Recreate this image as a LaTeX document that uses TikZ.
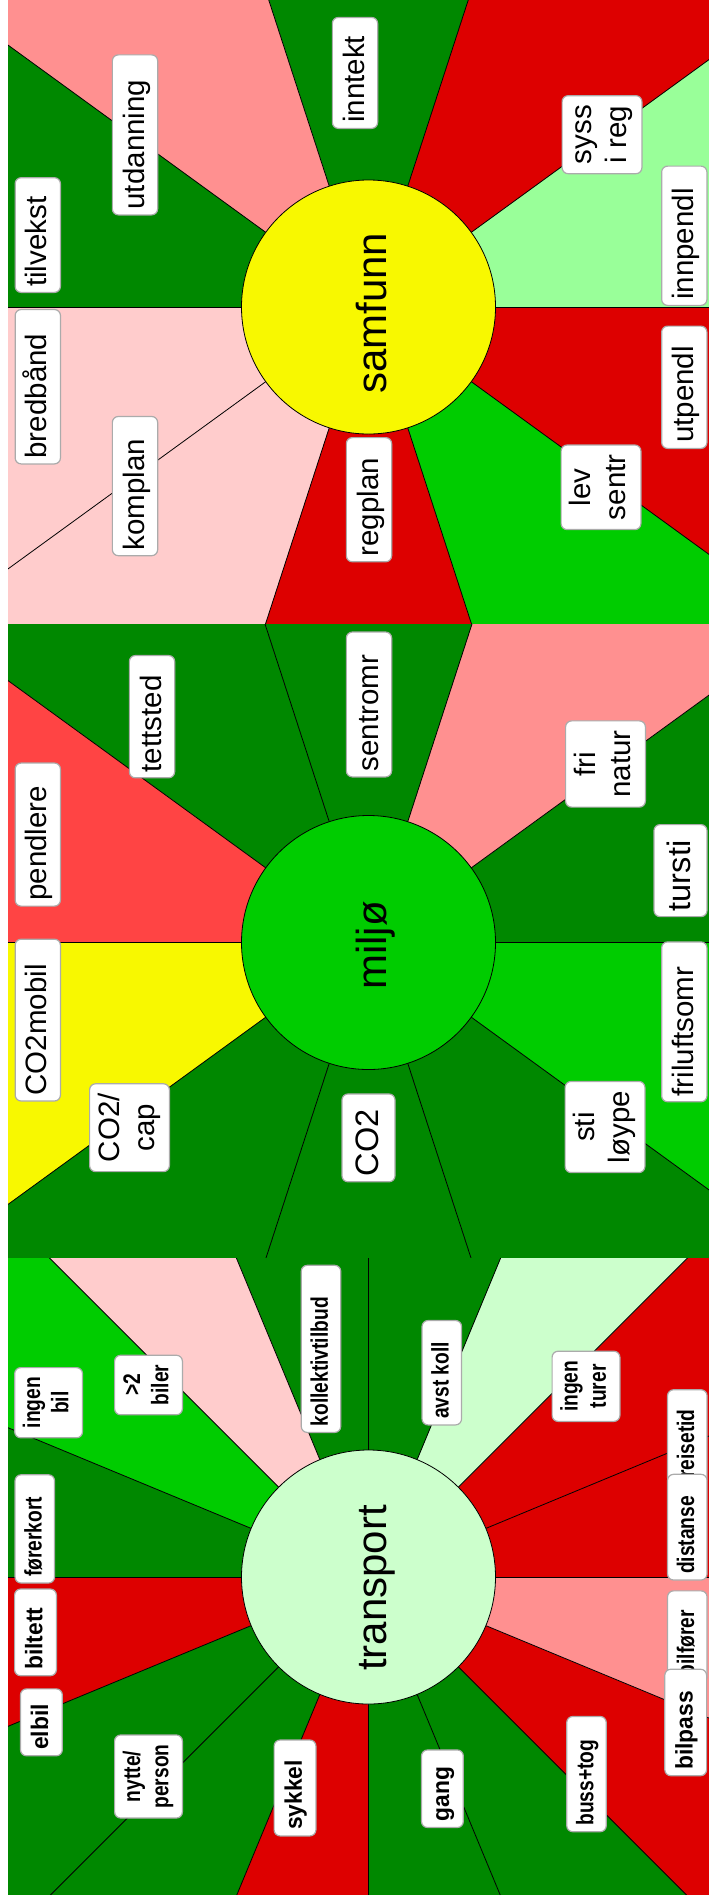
\documentclass[tikz,border=0pt]{standalone}
\usepackage{fontspec}
\setmainfont{Liberation Sans}
\newfontfamily\trfont[FakeStretch=0.8]{Liberation Sans}
\newfontfamily\trbigfont[FakeStretch=0.95]{Liberation Sans}

\definecolor{dgrn}{HTML}{008800}
\definecolor{bgrn}{HTML}{00CC00}
\definecolor{lgrn}{HTML}{99FF99}
\definecolor{vlgrn}{HTML}{CCFFCC}
\definecolor{rd}{HTML}{DD0000}
\definecolor{lrd}{HTML}{FF4444}
\definecolor{salm}{HTML}{FF9090}
\definecolor{pnk}{HTML}{FFCCCC}
\definecolor{yel}{HTML}{F8F800}

\tikzset{
  spoke/.style   = {line width=0.8pt},
  hub/.style     = {circle, draw, line width=0.8pt, minimum size=254pt, inner sep=0pt},
  hubtext/.style = {rotate=90, inner sep=0pt, font=\fontsize{42}{50}\selectfont,
                    text height=30.5pt, text depth=0pt},
  tag/.style     = {draw=black!33, line width=1.2pt, fill=white, rounded corners=6pt, rotate=90},
  % single line: text starts near the low end, box grows with the text
  padend/.style  = {execute at begin node={\setbox0=\hbox\bgroup},
                    execute at end node={\egroup\copy0\hspace*{#1\wd0}}},
  lbl/.style     = {tag, anchor=west, font=\fontsize{29.5}{35}\selectfont,
                    text height=22pt, text depth=4pt, inner xsep=5.5pt, inner ysep=9.65pt,
                    padend=0.15},
  lbltwo/.style  = {tag, align=center, font=\fontsize{29.5}{35}\selectfont,
                    inner xsep=9.5pt, inner ysep=4.9pt},
  tr/.style      = {tag, anchor=west, font=\trfont\bfseries\fontsize{24}{28.3}\selectfont,
                    text height=17.2pt, text depth=3.6pt, inner xsep=6.1pt, inner ysep=9.35pt,
                    padend=0.2},
  trbig/.style   = {tr, font=\trbigfont\bfseries\fontsize{24}{28.3}\selectfont, inner ysep=10.5pt},
  trtwo/.style   = {tag, align=center, font=\trfont\bfseries\fontsize{24}{28.3}\selectfont,
                    inner xsep=9.5pt, inner ysep=5.6pt},
}

\begin{document}
\begin{tikzpicture}[x=1pt,y=-1pt]
  \useasboundingbox (0,0) rectangle (709,1901);
  \clip (0,0) rectangle (709,1901);
  \fill[white] (0,0) rectangle (709,1901);

  % samfunn
  \coordinate (cs) at (368.5,307);
  \begin{scope}
    \clip (8,-11) rectangle (730,624.5);
    \foreach \c [count=\i from 0] in {lgrn,rd,dgrn,salm,dgrn,pnk,pnk,rd,bgrn,rd}
      \fill[\c] (cs) -- +({36*\i}:900pt) -- +({36*\i+36}:900pt) -- cycle;
    \foreach \a in {0,36,...,324}
      \draw[spoke] (cs) -- +(\a:900pt);
  \end{scope}
  \node[hub, fill=yel] (samfunn) at (cs) {};
  \node[hubtext] (samfunn-txt) at (371.2,313.3) {samfunn};

  \node[lbl] (inntekt) at (355,129) {inntekt};
  \node[lbl] (utdanning) at (135,215.5) {utdanning};
  \node[lbl] (tilvekst) at (37.8,293) {tilvekst};
  \node[lbl] (bredband) at (37.8,464.5) {bredbånd};
  \node[lbl] (komplan) at (135,556.3) {komplan};
  \node[lbl] (regplan) at (369,562.4) {regplan};
  \node[lbl] (innpendl) at (684.3,306) {innpendl};
  \node[lbl] (utpendl) at (684.3,449) {utpendl};
  \node[lbltwo] (syssireg) at (602,134.7) {\strut syss\\\strut i reg};
  \node[lbltwo] (levsentr) at (601,487.3) {\strut lev\\\strut sentr};

  % miljø
  \coordinate (cm) at (368.5,942.5);
  \begin{scope}
    \clip (8,624.5) rectangle (730,1258.5);
    \foreach \c [count=\i from 0] in {dgrn,salm,dgrn,dgrn,lrd,yel,dgrn,dgrn,dgrn,bgrn}
      \fill[\c] (cm) -- +({36*\i}:900pt) -- +({36*\i+36}:900pt) -- cycle;
    \foreach \a in {0,36,...,324}
      \draw[spoke] (cm) -- +(\a:900pt);
  \end{scope}
  \node[hub, fill=bgrn] (miljo) at (cm) {};
  \node[hubtext] (miljo-txt) at (371.2,945.6) {miljø};

  \node[lbl] (sentromr) at (369,777.5) {sentromr};
  \node[lbl] (tettsted) at (152,778.4) {tettsted};
  \node[lbl] (pendlere) at (37.8,906.7) {pendlere};
  \node[lbl] (co2mobil) at (37.8,1101.6) {CO2mobil};
  \node[lbl, font=\fontsize{32.5}{38}\selectfont, text height=24.2pt, text depth=4.4pt, inner ysep=12.2pt]
    (co2) at (368.5,1182.4) {CO2};
  \node[lbl, font=\fontsize{32.5}{38}\selectfont, text height=24.2pt, text depth=4.4pt, inner ysep=12.2pt]
    (tursti) at (680.5,917.2) {tursti};
  \node[lbl] (friluftsomr) at (684.3,1102.4) {friluftsomr};
  \node[lbltwo] (co2cap) at (129.5,1127.7) {\strut CO2/\\\strut cap};
  \node[lbltwo] (stiloype) at (605,1127) {\strut sti\\\strut løype};
  \node[lbltwo] (frinatur) at (605.5,764) {\strut fri\\\strut natur};

  % transport
  \coordinate (ct) at (368.5,1577);
  \begin{scope}
    \clip (8,1258.5) rectangle (730,1894);
    \foreach \c [count=\i from 0] in {rd,rd,vlgrn,dgrn,dgrn,pnk,bgrn,dgrn,rd,dgrn,dgrn,rd,dgrn,dgrn,rd,salm}
      \fill[\c] (ct) -- +({22.5*\i}:900pt) -- +({22.5*\i+22.5}:900pt) -- cycle;
    \foreach \a in {0,22.5,...,337.5}
      \draw[spoke] (ct) -- +(\a:900pt);
  \end{scope}
  \node[hub, fill=vlgrn] (transport) at (ct) {};
  \node[hubtext] (transport-txt) at (371.2,1588) {transport};

  \node[tr] (kollektiv) at (321,1433) {kollektivtilbud};
  \node[tr] (avstkoll) at (441.8,1425.5) {avst koll};
  \node[tr] (forerkort) at (34.8,1583.6) {førerkort};
  \node[trbig] (biltett) at (35.5,1676.3) {biltett};
  \node[trbig] (elbil) at (41.4,1756.4) {elbil};
  \node[tr] (reisetid) at (687.3,1484.5) {reisetid};
  \node[tr] (distanse) at (687.3,1580.6) {distanse};
  \node[tr] (bilforer) at (687.3,1683) {bilfører};
  \node[trbig] (bilpass) at (685.7,1776.3) {bilpass};
  \node[tr] (busstog) at (586.5,1832.3) {buss+tog};
  \node[trbig] (gang) at (442.4,1828.1) {gang};
  \node[trbig] (sykkel) at (295,1836.5) {sykkel};
  \node[trtwo] (ingenturer) at (586,1386.3) {\strut ingen\\\strut turer};
  \node[trtwo] (nytte) at (148.5,1776.5) {\strut nytte/\\\strut person};
  \node[trtwo] (ingenbil) at (48.6,1402.7) {\strut ingen\\\strut bil};
  \node[trtwo] (tobiler) at (148.5,1385) {\strut >2\\\strut biler};
\end{tikzpicture}
\end{document}
